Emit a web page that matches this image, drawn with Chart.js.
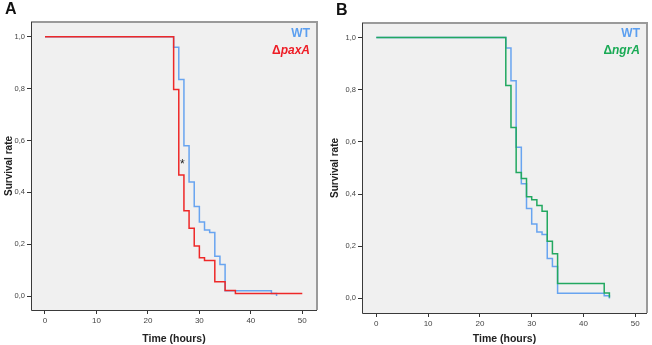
<!DOCTYPE html>
<html>
<head>
<meta charset="utf-8">
<script src="https://cdn.jsdelivr.net/npm/chart.js@4"></script>
<style>
	html, body { margin: 0; padding: 0; background: #fff; }
	#page { position: relative; width: 652px; height: 345px; overflow: hidden; font-family: "Liberation Sans", Arial, sans-serif; }
	.panel { position: absolute; top: 0; width: 326px; height: 345px; }
	.letter { position: absolute; font-weight: bold; font-size: 16px; line-height: 16px; color: #111; }
	.lg { position: absolute; font-weight: bold; font-size: 12px; line-height: 12px; text-align: right; white-space: nowrap; }
	.lg i { font-style: italic; }
	.star { position: absolute; font-size: 12px; line-height: 12px; color: #222; }
</style>
</head>
<body>
<div id="page">
	<div class="panel" style="left:0"><canvas id="chart-a" width="326" height="345"></canvas></div>
	<div class="panel" style="left:326px"><canvas id="chart-b" width="326" height="345"></canvas></div>
	<div class="letter" style="left:5px;top:1px">A</div>
	<div class="letter" style="left:336px;top:2px">B</div>
	<div class="lg" style="right:342px;top:27px;color:#5c9ff0">WT</div>
	<div class="lg" style="right:342px;top:44px;color:#ee1c25">Δ<i>paxA</i></div>
	<div class="lg" style="right:12px;top:27px;color:#5c9ff0">WT</div>
	<div class="lg" style="right:12px;top:44px;color:#1aaa55">Δ<i>ngrA</i></div>
	<div class="star" style="left:180px;top:158px">*</div>
</div>
<script>
// Kaplan-Meier steps (time in hours, survival fraction)
const wtTimes = [0, 25, 26, 27, 28, 29, 30, 31, 32, 33, 34, 35, 44, 45];
const wtSurvival = [1.0, 0.96, 0.835, 0.58, 0.44, 0.345, 0.285, 0.255, 0.245, 0.153, 0.122, 0.02, 0.01, 0.0];

const paxTimes = [0, 25, 26, 27, 28, 29, 30, 31, 33, 35, 37, 50];
const paxSurvival = [1.0, 0.797, 0.467, 0.329, 0.261, 0.193, 0.148, 0.137, 0.055, 0.021, 0.01, 0.01];

const ngrTimes = [0, 25, 26, 27, 28, 29, 30, 31, 32, 33, 34, 35, 44, 45];
const ngrSurvival = [1.0, 0.816, 0.655, 0.483, 0.46, 0.39, 0.378, 0.356, 0.334, 0.219, 0.171, 0.057, 0.021, 0.003];

const xTicks = [0, 10, 20, 30, 40, 50];
const xTickLabels = ["0", "10", "20", "30", "40", "50"];
const yTicks = [0, 0.2, 0.4, 0.6, 0.8, 1.0];
const yTickLabels = ["0,0", "0,2", "0,4", "0,6", "0,8", "1,0"];

const BLUE = "rgba(104, 164, 240, 1)";
const RED = "rgba(238, 40, 40, 1)";
const GREEN = "rgba(34, 168, 96, 1)";

const toPoints = (times, surv) => times.map((t, i) => ({ x: t, y: surv[i] }));

// plot background and box
const framePlugin = {
	id: "frame",
	beforeDraw(chart) {
		const { ctx, chartArea: a } = chart;
		ctx.save();
		ctx.fillStyle = "#f0f0f0";
		ctx.fillRect(a.left, a.top, a.width, a.height);
		ctx.restore();
	},
	afterDraw(chart) {
		const { ctx, chartArea: a } = chart;
		ctx.save();
		ctx.strokeStyle = "#9a9a9a";
		ctx.lineWidth = 2;
		ctx.beginPath();
		ctx.moveTo(a.left, a.top);
		ctx.lineTo(a.right, a.top);
		ctx.lineTo(a.right, a.bottom);
		ctx.stroke();
		ctx.strokeStyle = "#3a3a3a";
		ctx.lineWidth = 1;
		ctx.beginPath();
		ctx.moveTo(a.left + 0.5, a.top);
		ctx.lineTo(a.left + 0.5, a.bottom + 0.5);
		ctx.lineTo(a.right, a.bottom + 0.5);
		ctx.stroke();
		ctx.restore();
	},
};

const line = (label, points, color, order) => ({
	label,
	data: points,
	borderColor: color,
	backgroundColor: color,
	borderWidth: 1.5,
	pointRadius: 0,
	stepped: "before",
	fill: false,
	order,
});

const makeConfig = (datasets, p) => ({
	type: "line",
	data: { datasets },
	options: {
		responsive: false,
		animation: false,
		events: [],
		layout: { padding: { top: p.top, right: p.right, left: 0, bottom: 0 } },
		plugins: {
			legend: { display: false },
			tooltip: { enabled: false },
		},
		scales: {
			x: {
				type: "linear",
				min: p.xMin,
				max: p.xMax,
				afterBuildTicks: (s) => { s.ticks = xTicks.map((v) => ({ value: v })); },
				afterFit: (s) => { s.height = p.xAxisH; },
				border: { display: false },
				grid: { drawOnChartArea: false, drawTicks: true, tickLength: 4, tickColor: "#333", tickWidth: 1 },
				ticks: {
					autoSkip: false,
					maxRotation: 0,
					padding: 2,
					color: "#444",
					font: { family: "Liberation Sans", size: 8 },
					callback: (v, i) => xTickLabels[i],
				},
				title: {
					display: true,
					text: "Time (hours)",
					color: "#222",
					padding: { top: p.xTitlePad, bottom: 0 },
					font: { family: "Liberation Sans", size: 10.5, weight: "bold" },
				},
			},
			y: {
				type: "linear",
				min: p.yMin,
				max: p.yMax,
				afterBuildTicks: (s) => { s.ticks = yTicks.map((v) => ({ value: v })); },
				afterFit: (s) => { s.width = p.yAxisW; },
				border: { display: false },
				grid: { drawOnChartArea: false, drawTicks: true, tickLength: 4, tickColor: "#333", tickWidth: 1 },
				ticks: {
					padding: 2,
					color: "#444",
					font: { family: "Liberation Sans", size: 7.5 },
					callback: (v, i) => yTickLabels[i],
				},
				title: {
					display: true,
					text: "Survival rate",
					color: "#222",
					padding: { top: p.yTitlePad, bottom: 0 },
					font: { family: "Liberation Sans", size: 10, weight: "bold" },
				},
			},
		},
	},
	plugins: [framePlugin],
});

new Chart(document.getElementById("chart-a"), makeConfig([
	line("WT", toPoints(wtTimes, wtSurvival), BLUE, 1),
	line("ΔpaxA", toPoints(paxTimes, paxSurvival), RED, 0),
], { top: 22, right: 9, xAxisH: 35, yAxisW: 31, xMin: -2.72, xMax: 52.86, yMin: -0.054, yMax: 1.057, xTitlePad: 2, yTitlePad: 3 }));

new Chart(document.getElementById("chart-b"), makeConfig([
	line("WT", toPoints(wtTimes, wtSurvival), BLUE, 1),
	line("ΔngrA", toPoints(ngrTimes, ngrSurvival), GREEN, 0),
], { top: 23, right: 5, xAxisH: 32, yAxisW: 36, xMin: -2.76, xMax: 52.26, yMin: -0.056, yMax: 1.056, xTitlePad: 0, yTitlePad: 3 }));
</script>
</body>
</html>
